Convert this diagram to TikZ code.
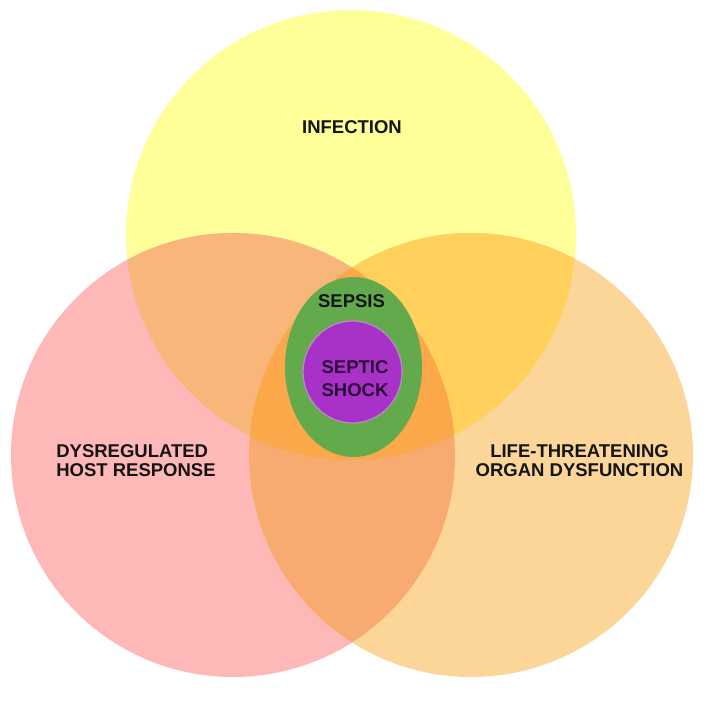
\documentclass[tikz,border=0pt]{standalone}
\usepackage{fontspec}
\setmainfont{Liberation Sans}
\definecolor{yc}{RGB}{255,255,153}
\definecolor{pc}{RGB}{255,184,184}
\definecolor{oc}{RGB}{252,214,153}
\definecolor{ypc}{RGB}{249,182,122}
\definecolor{yoc}{RGB}{255,208,92}
\definecolor{poc}{RGB}{248,171,112}
\definecolor{ypoc}{RGB}{250,168,74}
\definecolor{greenc}{RGB}{99,170,77}
\definecolor{purplec}{RGB}{168,50,200}
\definecolor{purpleedge}{RGB}{185,140,195}
\definecolor{labelc}{RGB}{20,20,20}
\definecolor{shockc}{RGB}{45,10,55}
\begin{document}
\begin{tikzpicture}[x=1pt,y=-1pt,
  lbl/.style={font=\bfseries\fontsize{18.5}{19}\selectfont, text=labelc, inner sep=0pt}]
\useasboundingbox (0,0) rectangle (707,703);
\fill[white] (0,0) rectangle (707,703);
\coordinate (Y) at (351,235);
\coordinate (P) at (233,455);
\coordinate (O) at (471,455);
% single circles
\fill[yc] (Y) circle[radius=225pt];
\fill[pc] (P) circle[radius=222pt];
\fill[oc] (O) circle[radius=222pt];
% pairwise overlaps
\begin{scope}
  \clip (Y) circle[radius=225pt];
  \fill[ypc] (P) circle[radius=222pt];
\end{scope}
\begin{scope}
  \clip (Y) circle[radius=225pt];
  \fill[yoc] (O) circle[radius=222pt];
\end{scope}
\begin{scope}
  \clip (P) circle[radius=222pt];
  \fill[poc] (O) circle[radius=222pt];
\end{scope}
% triple overlap
\begin{scope}
  \clip (Y) circle[radius=225pt];
  \clip (P) circle[radius=222pt];
  \fill[ypoc] (O) circle[radius=222pt];
\end{scope}
% sepsis and septic shock
\coordinate (G) at (353.5,367);
\coordinate (S) at (352.5,372);
\fill[greenc] (G) ellipse[x radius=68.5pt, y radius=90pt];
\filldraw[fill=purplec, draw=purpleedge, line width=1.2pt] (S) ellipse[x radius=49.5pt, y radius=51pt];
% labels
\node[lbl] (inf) at (352,127.5) {INFECTION};
\node[lbl, align=left] (dys) at (136,461) {DYSREGULATED\\HOST RESPONSE};
\node[lbl, align=center] (life) at (579.5,461) {LIFE-THREATENING\\ORGAN DYSFUNCTION};
\node[lbl] (sep) at (351.5,301.5) {SEPSIS};
\node[lbl, align=left, text=shockc, font=\bfseries\fontsize{18.5}{23}\selectfont] (shock) at (355,379) {SEPTIC\\SHOCK};
\end{tikzpicture}
\end{document}
